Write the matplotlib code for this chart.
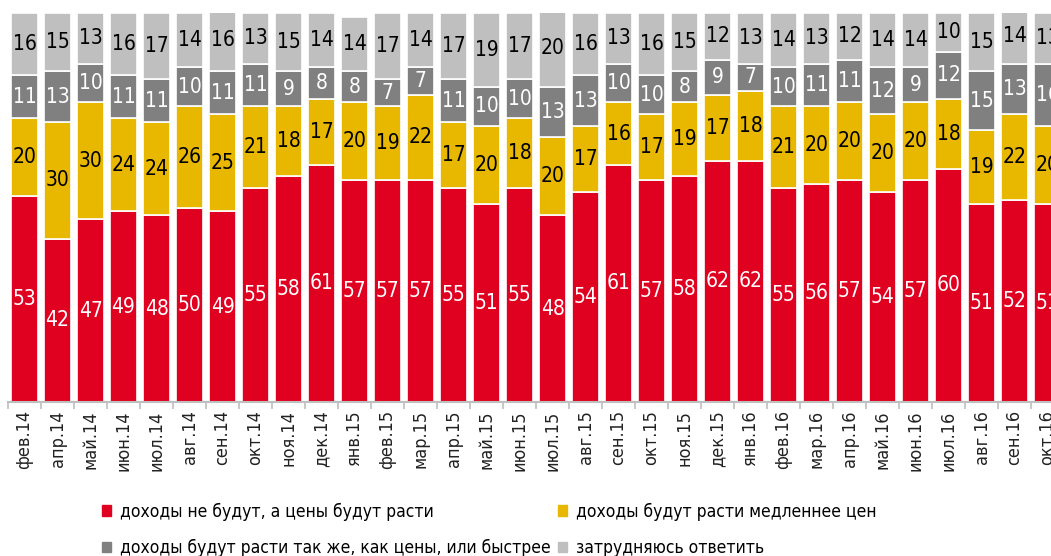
import numpy as np
import matplotlib.pyplot as plt
from matplotlib.patches import Patch

plt.rcParams['font.family'] = ['DejaVu Sans']
plt.rcParams['font.stretch'] = 'condensed'

months = ['фев.14', 'апр.14', 'май.14', 'июн.14', 'июл.14', 'авг.14', 'сен.14', 'окт.14',
          'ноя.14', 'дек.14', 'янв.15', 'фев.15', 'мар.15', 'апр.15', 'май.15', 'июн.15',
          'июл.15', 'авг.15', 'сен.15', 'окт.15', 'ноя.15', 'дек.15', 'янв.16', 'фев.16',
          'мар.16', 'апр.16', 'май.16', 'июн.16', 'июл.16', 'авг.16', 'сен.16', 'окт.16']

no_income = [53, 42, 47, 49, 48, 50, 49, 55, 58, 61, 57, 57, 57, 55, 51, 55,
             48, 54, 61, 57, 58, 62, 62, 55, 56, 57, 54, 57, 60, 51, 52, 51]
slower = [20, 30, 30, 24, 24, 26, 25, 21, 18, 17, 20, 19, 22, 17, 20, 18,
          20, 17, 16, 17, 19, 17, 18, 21, 20, 20, 20, 20, 18, 19, 22, 20]
same_or_faster = [11, 13, 10, 11, 11, 10, 11, 11, 9, 8, 8, 7, 7, 11, 10, 10,
                  13, 13, 10, 10, 8, 9, 7, 10, 11, 11, 12, 9, 12, 15, 13, 16]
hard_to_say = [16, 15, 13, 16, 17, 14, 16, 13, 15, 14, 14, 17, 14, 17, 19, 17,
               20, 16, 13, 16, 15, 12, 13, 14, 13, 12, 14, 14, 10, 15, 14, 13]

series = [
    ('доходы не будут, а цены будут расти', no_income, '#E0001F', 'white'),
    ('доходы будут расти медленнее цен', slower, '#E8B800', 'black'),
    ('доходы будут расти так же, как цены, или быстрее', same_or_faster, '#808080', 'white'),
    ('затрудняюсь ответить', hard_to_say, '#BFBFBF', 'black'),
]

fig = plt.figure(figsize=(10.51, 5.56), dpi=100)
ax = fig.add_axes([8 / 1051, 1 - 402 / 556, 1 - 8 / 1051, 389 / 556])

x = np.arange(len(months))
bottom = np.zeros(len(months))
for name, vals, color, tcolor in series:
    vals = np.array(vals, dtype=float)
    ax.bar(x, vals, bottom=bottom, width=0.82, color=color, edgecolor='white',
           linewidth=1.2, label=name)
    for xi, b, v in zip(x, bottom, vals):
        ax.text(xi, b + v / 2, f'{int(v)}', ha='center', va='center',
                color=tcolor, fontsize=15)
    bottom += vals

for s in ['top', 'right', 'left']:
    ax.spines[s].set_visible(False)
ax.spines['bottom'].set_color('#BFBFBF')
ax.spines['bottom'].set_linewidth(1.5)
ax.set_yticks([])

ax.set_xticks(x)
ax.set_xticklabels(months, rotation=90, fontsize=13, color='#222222')
ax.tick_params(axis='x', which='major', length=0, pad=6)
ax.set_xticks(np.arange(-0.5, len(months), 1), minor=True)
ax.tick_params(axis='x', which='minor', length=5, width=1.2, color='#BFBFBF')

# limits after ticks, since set_xticks widens the view
ax.set_xlim(-0.5, (1051 - 24.5) / 33)
ax.set_ylim(0, 100)

handles = [Patch(color=series[0][2]), Patch(color=series[2][2]),
           Patch(color=series[1][2]), Patch(color=series[3][2])]
labels = [series[0][0], series[2][0], series[1][0], series[3][0]]
fig.legend(handles, labels, ncol=2, loc='upper left', bbox_to_anchor=(0.082, 0.124),
           frameon=False, fontsize=12.5, handlelength=0.55, handleheight=0.55,
           handletextpad=0.5, columnspacing=0.4, labelspacing=1.05)

fig.savefig('out.png', dpi=100)
